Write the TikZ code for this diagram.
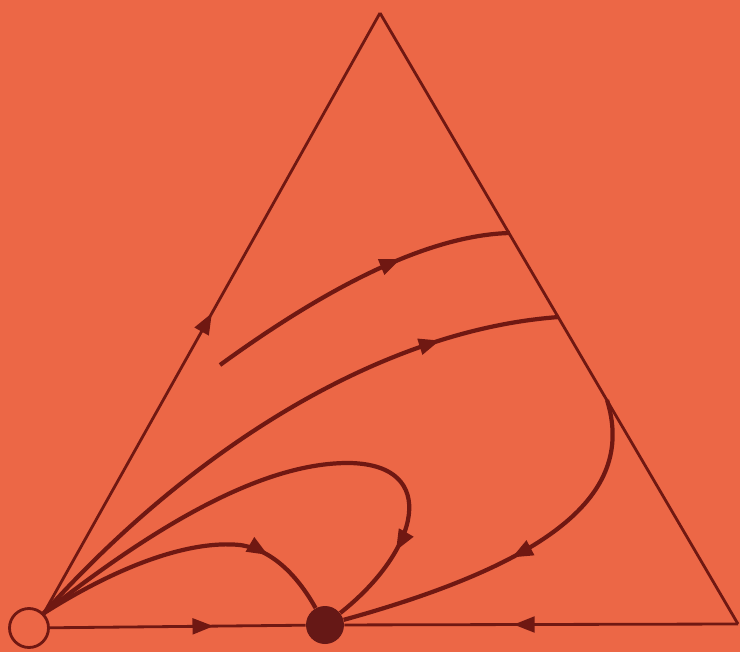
\documentclass[tikz,border=0pt]{standalone}
\usetikzlibrary{arrows.meta,decorations.markings}
\definecolor{bgorange}{RGB}{236,103,70}
\definecolor{inkred}{RGB}{112,24,18}
\definecolor{dotred}{RGB}{102,24,22}
\tikzset{
  edge/.style={draw=inkred,line width=1.6pt},
  flow/.style={draw=inkred,line width=2.4pt},
  midarrow/.style={postaction={decorate},decoration={markings,
    mark=at position #1 with {\arrow{Triangle[length=12pt,width=9pt]}}}}
}
\begin{document}
\begin{tikzpicture}[x=0.02cm,y=-0.02cm]
\useasboundingbox[fill=bgorange] (0,0) rectangle (740,652);
\coordinate (apex) at (380,13);
\coordinate (rc) at (738,624);
\coordinate (f1) at (220,365);
\coordinate (r1) at (510,233);
\coordinate (r2) at (559,317);
\coordinate (r3) at (607,400);
\coordinate (looptop) at (350,463);
\coordinate (bumptop) at (240,545);
\node[circle,draw=inkred,line width=1.6pt,fill=bgorange,inner sep=0pt,minimum size=0.78cm] (src) at (29,628) {};
\node[circle,fill=dotred,inner sep=0pt,minimum size=0.76cm] (sink) at (325,625) {};
\draw[edge,midarrow=0.5] (src.45) -- (apex);
\draw[edge] (apex) -- (rc);
\draw[edge,midarrow=0.64] (src) -- (sink);
\draw[edge,midarrow=0.57] (rc) -- (sink);
\draw[flow,midarrow=0.65] (f1) .. controls (330,285) and (430,235) .. (r1);
\draw[flow,midarrow=0.8] (src.45) .. controls (190,450) and (380,330) .. (r2);
\draw[flow,midarrow=0.53] (r3) .. controls (635,490) and (560,560) .. (sink);
\draw[flow,midarrow=0.85] (src.45) .. controls (150,530) and (260,462) .. (looptop) .. controls (440,465) and (420,550) .. (sink);
\draw[flow,midarrow=0.77] (src.45) .. controls (120,565) and (190,540) .. (bumptop) .. controls (275,550) and (300,580) .. (sink);
\end{tikzpicture}
\end{document}
